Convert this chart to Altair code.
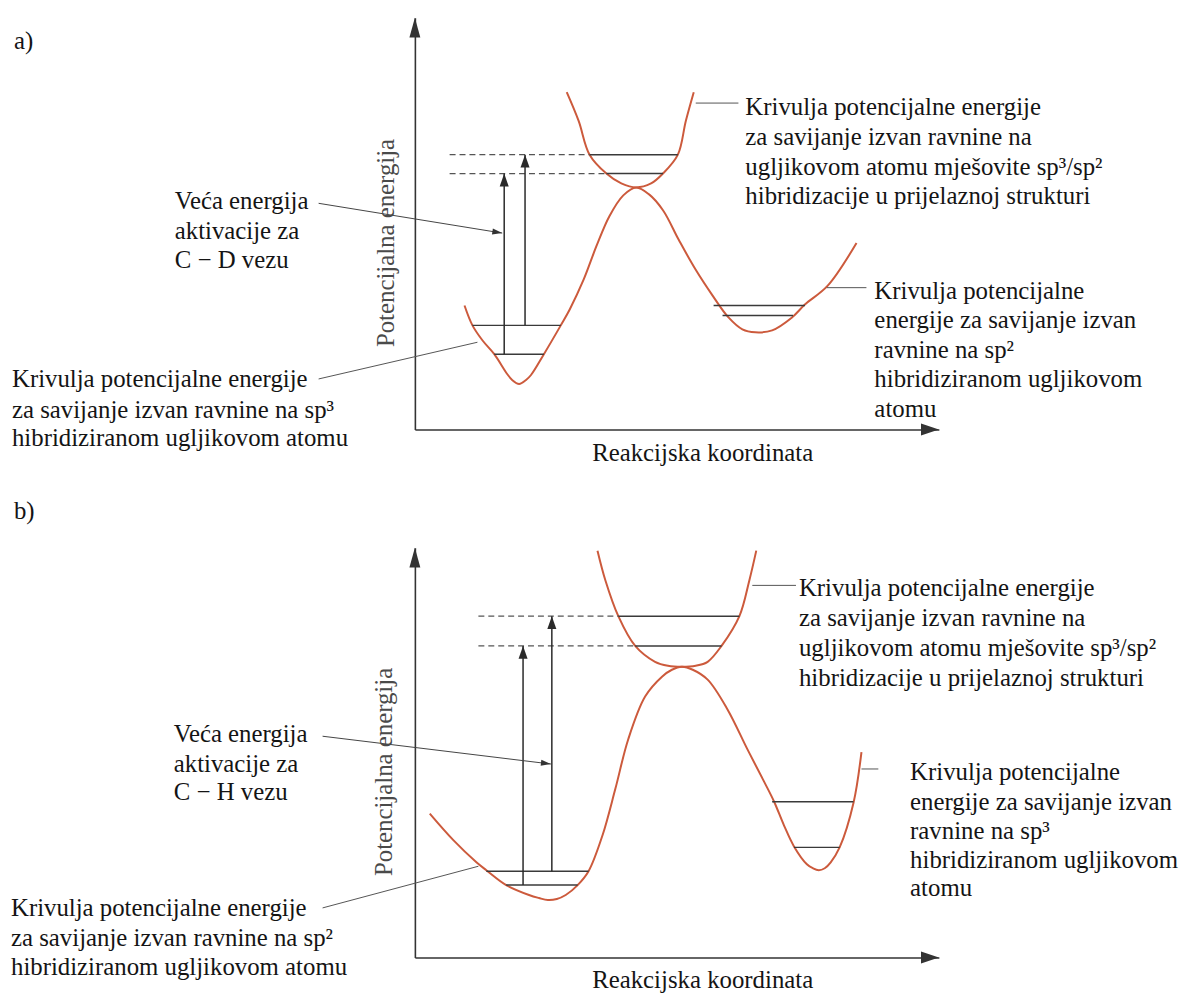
import math
import altair as alt
import pandas as pd

FONT = "Liberation Serif"
INK = "#141414"
AXIS = "#333333"
CURVE = "#cc5a3c"
FS = 25

# ---------------- panel a (units = px from the axes origin) ----------------
A_W, A_H = 528, 415
A_PES_X = [50, 58, 68, 80, 93, 98, 105, 112, 117, 130, 147, 156, 170, 183, 196, 210, 223,
           236, 250, 266, 283, 300, 316, 330, 343, 360, 380, 393, 416, 445]
A_PES_Y = [125, 105, 90, 76, 56, 50, 46, 50, 55, 76, 105, 121, 151, 185, 215, 236, 244,
           237, 221, 191, 161, 135, 113, 101, 98, 100, 113, 126, 145, 188]
A_TS_X = [153, 165, 176, 193, 208, 223, 238, 250, 265, 273, 281]
A_TS_Y = [340, 311, 277, 258, 248, 244, 248, 258, 277, 311, 340]
A_LEVELS = [(58, 147, 105), (80, 130, 76), (176, 265, 277), (193, 250, 258),
            (301, 393, 125), (310, 381, 115)]
A_DASHED = [(35, 176, 277), (35, 193, 258)]
A_ARROWS = [(90, 76, 258), (111, 105, 277)]
A_LEADERS = [(-97, 51, 63, 88), (283, 329, 326, 329), (415, 143, 455, 143)]
A_POINTER = (-97, 228, 88, 198)
A_TEXTS = [
    ("a)", -404, 391),
    ("Veća energija", -242, 230), ("aktivacije za", -242, 200), ("C − D vezu", -242, 171),
    ("Krivulja potencijalne energije", -406, 51),
    ("za savijanje izvan ravnine na sp³", -406, 20),
    ("hibridiziranom ugljikovom atomu", -406, -9),
    ("Krivulja potencijalne energije", 333, 325),
    ("za savijanje izvan ravnine na", 333, 295),
    ("ugljikovom atomu mješovite sp³/sp²", 333, 265),
    ("hibridizacije u prijelaznoj strukturi", 333, 235),
    ("Krivulja potencijalne", 463, 140),
    ("energije za savijanje izvan", 463, 110),
    ("ravnine na sp²", 463, 80),
    ("hibridiziranom ugljikovom", 463, 51),
    ("atomu", 463, 21),
]
A_YTITLE = ("Potencijalna energija", -29, 188)
A_XTITLE = ("Reakcijska koordinata", 290, -24)

# ---------------- panel b ----------------
B_W, B_H = 528, 413
B_PES_X = [15, 39, 62, 72, 92, 115, 125, 134, 143, 152, 164, 175, 189, 202, 215, 232, 249,
           259, 269, 280, 295, 315, 335, 352, 362, 372, 382, 395, 401, 407, 413, 419, 428, 442, 450]
B_PES_Y = [145, 118, 96, 88, 73, 63, 60, 58, 59, 63, 73, 87, 123, 170, 220, 263, 283,
           290, 293, 290, 280, 250, 210, 177, 157, 133, 112, 94, 90, 88, 90, 96, 111, 156, 207]
B_TS_X = [184, 192, 205, 222, 242, 255, 269, 283, 295, 309, 327, 337, 344]
B_TS_Y = [410, 380, 344, 314, 298, 294, 293, 294, 298, 314, 344, 380, 410]
B_LEVELS = [(72, 175, 87), (92, 164, 73), (205, 327, 344), (222, 309, 314),
            (360, 442, 157), (382, 428, 111)]
B_DASHED = [(64, 205, 344), (64, 222, 314)]
B_ARROWS = [(109, 73, 314), (138, 87, 344)]
B_LEADERS = [(-93, 50, 64, 92), (340, 375, 384, 375), (450, 190, 467, 190)]
B_POINTER = (-93, 223, 137, 195)
B_TEXTS = [
    ("b)", -404, 450),
    ("Veća energija", -243, 225), ("aktivacije za", -243, 195), ("C − H vezu", -243, 167),
    ("Krivulja potencijalne energije", -407, 50),
    ("za savijanje izvan ravnine na sp²", -407, 20),
    ("hibridiziranom ugljikovom atomu", -407, -10),
    ("Krivulja potencijalne energije", 387, 372),
    ("za savijanje izvan ravnine na", 387, 342),
    ("ugljikovom atomu mješovite sp³/sp²", 387, 312),
    ("hibridizacije u prijelaznoj strukturi", 387, 282),
    ("Krivulja potencijalne", 499, 187),
    ("energije za savijanje izvan", 499, 157),
    ("ravnine na sp³", 499, 127),
    ("hibridiziranom ugljikovom", 499, 98),
    ("atomu", 499, 70),
]
B_YTITLE = ("Potencijalna energija", -31, 187)
B_XTITLE = ("Reakcijska koordinata", 290, -23)

UP_HEAD = "M0,-1L-0.7,1L0.7,1Z"
Y_HEAD = "M0,-1L-0.55,1L0.55,1Z"
X_HEAD = "M1,0L-1,-0.67L-1,0.67Z"
PTR_HEAD = "M1,0L-1,-0.6L-1,0.6Z"


def build(W, H, pes_x, pes_y, ts_x, ts_y, levels, dashed, arrows, leaders,
          pointer, texts, ytitle, xtitle):
    xs = alt.Scale(domain=[0, W], nice=False, zero=False)
    ys = alt.Scale(domain=[0, H], nice=False, zero=False)
    axx = alt.Axis(domain=True, ticks=False, labels=False, grid=False, title=None,
                   domainColor=AXIS, domainWidth=1.6)
    axy = alt.Axis(domain=True, ticks=False, labels=False, grid=False, title=None,
                   domainColor=AXIS, domainWidth=1.6)

    def X(f="x"):
        return alt.X(f, type="quantitative", scale=xs, axis=axx)

    def Y(f="y"):
        return alt.Y(f, type="quantitative", scale=ys, axis=axy)

    layers = []
    pes = pd.DataFrame({"x": pes_x, "y": pes_y})
    layers.append(alt.Chart(pes).mark_line(color=CURVE, strokeWidth=2,
                                           interpolate="catmull-rom").encode(x=X(), y=Y()))
    ts = pd.DataFrame({"x": ts_x, "y": ts_y})
    layers.append(alt.Chart(ts).mark_line(color=CURVE, strokeWidth=2,
                                          interpolate="catmull-rom").encode(x=X(), y=Y()))

    lv = pd.DataFrame(levels, columns=["x", "x2", "y"])
    layers.append(alt.Chart(lv).mark_rule(color="#3a3a3a", strokeWidth=1.5).encode(
        x=X(), x2="x2:Q", y=Y()))
    ds = pd.DataFrame(dashed, columns=["x", "x2", "y"])
    layers.append(alt.Chart(ds).mark_rule(color="#555555", strokeWidth=1.3,
                                          strokeDash=[6, 4]).encode(x=X(), x2="x2:Q", y=Y()))

    ar = pd.DataFrame(arrows, columns=["x", "y", "y2"])
    layers.append(alt.Chart(ar).mark_rule(color="#2a2a2a", strokeWidth=1.5).encode(
        x=X(), y=Y(), y2="y2:Q"))
    heads = pd.DataFrame({"x": [a[0] for a in arrows], "y": [a[2] - 6.5 for a in arrows]})
    layers.append(alt.Chart(heads).mark_point(shape=UP_HEAD, filled=True, size=169,
                                              color="#2a2a2a", opacity=1).encode(x=X(), y=Y()))

    ld = pd.DataFrame(leaders, columns=["x", "y", "x2", "y2"])
    layers.append(alt.Chart(ld).mark_rule(color="#555555", strokeWidth=1).encode(
        x=X(), y=Y(), x2="x2:Q", y2="y2:Q"))

    sx, sy, tx, ty = pointer
    pdf = pd.DataFrame({"x": [sx], "y": [sy], "x2": [tx], "y2": [ty]})
    layers.append(alt.Chart(pdf).mark_rule(color="#444444", strokeWidth=1).encode(
        x=X(), y=Y(), x2="x2:Q", y2="y2:Q"))
    dx, dy = tx - sx, ty - sy
    L = math.hypot(dx, dy)
    ang = math.degrees(math.atan2(-dy, dx)) % 360
    phd = pd.DataFrame({"x": [tx - 5 * dx / L], "y": [ty - 5 * dy / L]})
    layers.append(alt.Chart(phd).mark_point(shape=PTR_HEAD, filled=True, size=100,
                                            angle=ang, color="#333333", opacity=1).encode(x=X(), y=Y()))

    yh = pd.DataFrame({"x": [0], "y": [H - 10]})
    layers.append(alt.Chart(yh).mark_point(shape=Y_HEAD, filled=True, size=400,
                                           color=AXIS, opacity=1).encode(x=X(), y=Y()))
    xh = pd.DataFrame({"x": [W - 9], "y": [0]})
    layers.append(alt.Chart(xh).mark_point(shape=X_HEAD, filled=True, size=324,
                                           color=AXIS, opacity=1).encode(x=X(), y=Y()))

    tx_df = pd.DataFrame(texts, columns=["t", "x", "y"])
    layers.append(alt.Chart(tx_df).mark_text(align="left", baseline="middle", font=FONT,
                                             fontSize=FS, color=INK).encode(
        x=X(), y=Y(), text="t:N"))

    yt = pd.DataFrame([ytitle], columns=["t", "x", "y"])
    layers.append(alt.Chart(yt).mark_text(align="center", baseline="middle", font=FONT,
                                          fontSize=FS, color="#4a4a4a", angle=270).encode(
        x=X(), y=Y(), text="t:N"))
    xt = pd.DataFrame([xtitle], columns=["t", "x", "y"])
    layers.append(alt.Chart(xt).mark_text(align="center", baseline="middle", font=FONT,
                                          fontSize=FS, color=INK).encode(
        x=X(), y=Y(), text="t:N"))

    return alt.layer(*layers).properties(width=W, height=H)


pa = build(A_W, A_H, A_PES_X, A_PES_Y, A_TS_X, A_TS_Y, A_LEVELS, A_DASHED, A_ARROWS,
           A_LEADERS, A_POINTER, A_TEXTS, A_YTITLE, A_XTITLE)
pb = build(B_W, B_H, B_PES_X, B_PES_Y, B_TS_X, B_TS_Y, B_LEVELS, B_DASHED, B_ARROWS,
           B_LEADERS, B_POINTER, B_TEXTS, B_YTITLE, B_XTITLE)

chart = alt.vconcat(pa, pb, spacing=119, bounds="flush").properties(
    padding={"left": 3, "top": 5, "right": 5, "bottom": 5},
    background="white",
).configure_view(stroke=None)

chart.save("out.html", embed_options={"renderer": "svg", "actions": False})
